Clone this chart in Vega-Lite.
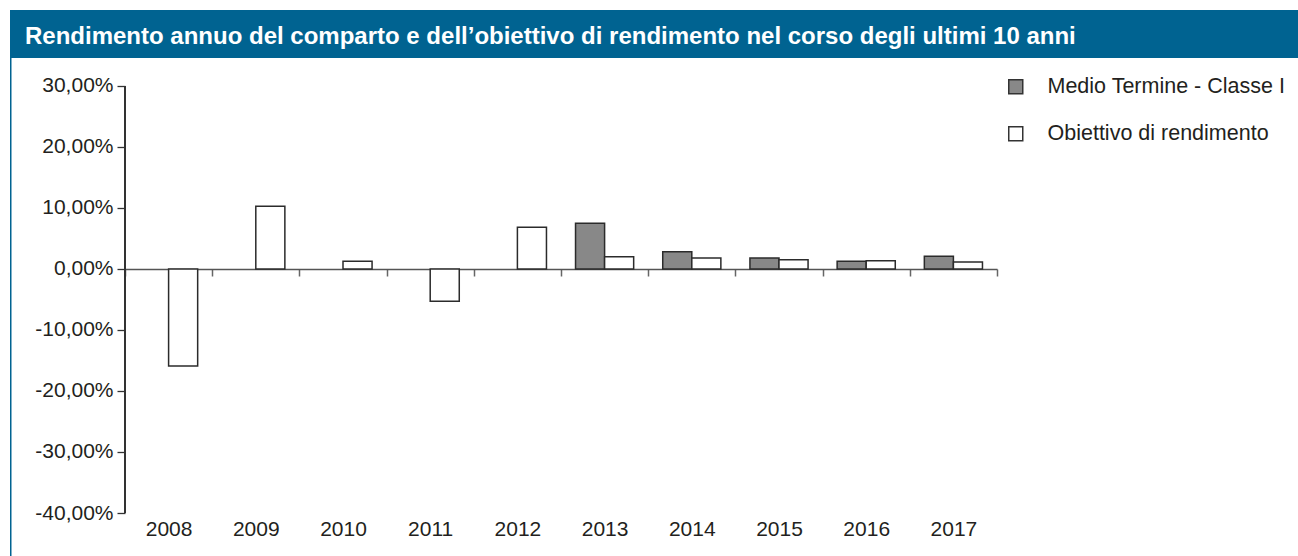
{
  "$schema": "https://vega.github.io/schema/vega-lite/v6.json",
  "background": "white",
  "padding": {"left": 10, "top": 10, "right": 0, "bottom": 0},
  "config": {
    "view": {"stroke": null},
    "font": "Liberation Sans"
  },
  "spacing": 0,
  "vconcat": [
    {
      "width": 1288,
      "height": 48,
      "view": {"fill": "#006391", "stroke": null},
      "data": {"values": [{}]},
      "mark": {"type": "text", "text": ""},
      "title": {
        "text": "Rendimento annuo del comparto e dell’obiettivo di rendimento nel corso degli ultimi 10 anni",
        "anchor": "start",
        "frame": "group",
        "orient": "top",
        "offset": -57.5,
        "dx": 15,
        "baseline": "alphabetic",
        "color": "#ffffff",
        "font": "Liberation Sans",
        "fontSize": 24,
        "fontWeight": "bold"
      }
    },
    {
      "spacing": 0,
      "hconcat": [
        {
          "width": 1.5,
          "height": 498,
          "view": {"fill": "#006391", "stroke": null},
          "data": {"values": [{}]},
          "mark": {"type": "text", "text": ""}
        },
        {
          "width": 872,
          "height": 455,
          "data": {
            "values": [
              {"anno": "2008", "serie": "Obiettivo di rendimento", "valore": -15.9},
              {"anno": "2009", "serie": "Obiettivo di rendimento", "valore": 10.3},
              {"anno": "2010", "serie": "Obiettivo di rendimento", "valore": 1.26},
              {"anno": "2011", "serie": "Obiettivo di rendimento", "valore": -5.3},
              {"anno": "2012", "serie": "Obiettivo di rendimento", "valore": 6.84},
              {"anno": "2013", "serie": "Medio Termine - Classe I", "valore": 7.49},
              {"anno": "2013", "serie": "Obiettivo di rendimento", "valore": 2.02},
              {"anno": "2014", "serie": "Medio Termine - Classe I", "valore": 2.84},
              {"anno": "2014", "serie": "Obiettivo di rendimento", "valore": 1.8},
              {"anno": "2015", "serie": "Medio Termine - Classe I", "valore": 1.8},
              {"anno": "2015", "serie": "Obiettivo di rendimento", "valore": 1.52},
              {"anno": "2016", "serie": "Medio Termine - Classe I", "valore": 1.26},
              {"anno": "2016", "serie": "Obiettivo di rendimento", "valore": 1.36},
              {"anno": "2017", "serie": "Medio Termine - Classe I", "valore": 2.08},
              {"anno": "2017", "serie": "Obiettivo di rendimento", "valore": 1.15}
            ]
          },
          "layer": [
            {
              "mark": {"type": "bar", "stroke": "#2b2b2b", "strokeWidth": 1.5},
              "encoding": {
                "x": {
                  "field": "anno",
                  "type": "nominal",
                  "sort": null,
                  "scale": {"domain": ["2008","2009","2010","2011","2012","2013","2014","2015","2016","2017"], "paddingInner": 0, "paddingOuter": 0},
                  "axis": {
                    "title": null,
                    "orient": "bottom",
                    "offset": -244,
                    "tickBand": "extent",
                    "tickSize": 7,
                    "tickWidth": 1.5,
                    "tickColor": "#666666",
                    "domainColor": "#555555",
                    "domainWidth": 1.5,
                    "labelAngle": 0,
                    "labelPadding": 242,
                    "labelFontSize": 21,
                    "labelFont": "Liberation Sans",
                    "labelColor": "#231f20",
                    "grid": false
                  }
                },
                "xOffset": {
                  "field": "serie",
                  "scale": {"domain": ["Medio Termine - Classe I", "Obiettivo di rendimento"], "paddingOuter": 0.5, "paddingInner": 0}
                },
                "y": {
                  "field": "valore",
                  "type": "quantitative",
                  "scale": {"domain": [-40, 34.59], "nice": false, "zero": false},
                  "axis": {
                    "title": null,
                    "domain": false,
                    "values": [-40, -30, -20, -10, 0, 10, 20, 30],
                    "labelExpr": "replace(replace(format(datum.value, '.2f'), '.', ','), '\u2212', '-') + '%'",
                    "tickSize": 8,
                    "tickWidth": 1.3,
                    "tickColor": "#333333",
                    "labelPadding": 4,
                    "labelFontSize": 21,
                    "labelFont": "Liberation Sans",
                    "labelColor": "#231f20",
                    "grid": false,
                    "minExtent": 113,
                    "maxExtent": 113
                  }
                },
                "fill": {
                  "field": "serie",
                  "type": "nominal",
                  "scale": {"domain": ["Medio Termine - Classe I", "Obiettivo di rendimento"], "range": ["#888888", "#ffffff"]},
                  "legend": {
                    "title": null,
                    "orient": "none",
                    "legendX": 995,
                    "legendY": 66,
                    "padding": 0,
                    "symbolType": "square",
                    "symbolSize": 196,
                    "symbolStrokeColor": "#333333",
                    "symbolStrokeWidth": 1.5,
                    "labelOffset": 21,
                    "rowPadding": 24,
                    "labelFontSize": 21.5,
                    "labelFont": "Liberation Sans",
                    "labelColor": "#231f20",
                    "labelLimit": 400
                  }
                }
              }
            },
            {
              "mark": {"type": "rule", "color": "#333333", "strokeWidth": 1.3},
              "encoding": {
                "x": {"datum": "2008", "type": "nominal", "bandPosition": 0},
                "y": {"datum": -40, "type": "quantitative"},
                "y2": {"datum": 30}
              }
            }
          ]
        }
      ]
    }
  ]
}
